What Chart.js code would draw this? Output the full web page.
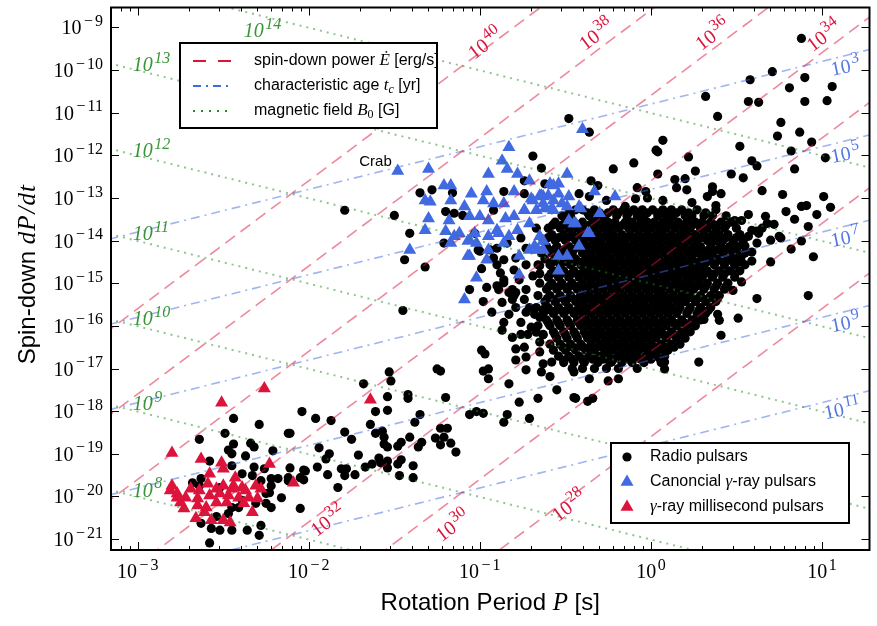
<!DOCTYPE html>
<html>
<head>
<meta charset="utf-8">
<script src="https://cdn.jsdelivr.net/npm/chart.js@4.4.0/dist/chart.umd.min.js"></script>
<style>
  body { margin: 0; background: #fff; }
  canvas { display: block; }
</style>
</head>
<body>
<canvas id="ppdot" width="877" height="626"></canvas>
<script>
// all values are log10: [log P (s), log dP/dt]

// radio pulsars away from the main cluster
const radioSparse = [
  [0.88,-9.26],[0.58,-10.23],[0.71,-10.04],[0.90,-10.18],[0.81,-10.42],[1.06,-10.39],[0.32,-10.62],[0.57,-10.74],
  [0.63,-10.76],[0.90,-10.74],[1.03,-10.72],[0.39,-11.09],[0.76,-11.23],[0.74,-11.55],[0.87,-11.46],[0.94,-11.69],
  [0.07,-11.65],[0.52,-11.79],[0.03,-11.88],[0.04,-11.92],[0.82,-11.90],[1.02,-12.06],[0.22,-12.04],[0.59,-12.13],
  [0.62,-12.25],[-0.10,-12.18],[-0.22,-12.32],[0.84,-12.32],[0.47,-12.44],[0.54,-12.53],[0.26,-12.37],[0.04,-12.44],
  [0.14,-12.57],[0.20,-12.55],[-0.36,-11.46],[-0.31,-12.71],[-0.35,-12.60],[-0.08,-12.76],[-0.03,-12.85],[0.07,-13.06],
  [0.15,-12.76],[0.21,-12.81],[0.24,-13.11],[0.36,-12.74],[0.36,-12.85],[0.41,-12.90],[0.33,-12.97],[0.38,-13.18],
  [0.65,-12.83],[0.77,-12.92],[1.01,-12.97],[0.88,-13.20],[0.91,-13.18],[1.05,-13.22],[0.79,-13.32],[0.84,-13.50],
  [0.97,-13.39],[0.57,-13.39],[0.49,-13.53],[0.53,-13.53],[0.68,-13.60],[0.72,-13.62],[0.63,-13.83],[0.62,-14.06],
  [0.76,-13.94],[0.88,-14.01],[0.82,-14.20],[0.92,-13.67],[0.95,-14.38],[0.59,-14.48],[0.70,-14.50],[0.62,-15.36],
  [0.92,-15.29],[0.51,-15.82],[0.67,-13.43],[0.65,-13.71],[0.59,-13.76],[0.57,-13.90],[0.62,-13.78],[0.70,-13.99],
  [0.75,-13.90],[0.55,-14.13],[0.59,-14.27],[0.53,-14.36],[0.50,-14.45],[0.53,-14.97],[0.48,-15.17],[0.41,-16.22],
  [0.28,-16.85],[0.31,-15.85],[0.39,-15.73],[0.40,-15.87],[0.26,-15.85],
  [-0.64,-12.30],[-0.48,-11.14],[-0.69,-12.02],[-0.42,-12.90],[-0.36,-12.97],[-0.26,-13.06],[-0.15,-13.20],
  [-0.09,-13.02],[-0.02,-13.00],
  [-0.36,-17.24],[-0.25,-17.29],[-0.19,-17.24],[-0.37,-17.77],[-0.34,-17.70],[-0.44,-17.70],[0.08,-17.01],[0.08,-16.85],
  [-0.08,-16.73],[-0.04,-16.78],[-0.01,-16.66],[0.03,-16.54],[0.07,-16.54],[0.03,-16.22],[-0.07,-16.45],[-0.55,-17.50],
  [-0.45,-17.68],[-0.66,-17.70],[-0.45,-17.08],[-0.58,-16.85],[-0.63,-16.89],[-0.64,-17.08],[-0.59,-17.19],[-0.51,-16.80],
  [-0.39,-16.85],[-0.31,-16.80],[-0.23,-16.85],[-0.13,-16.78],
  [-1.45,-15.64],[-0.86,-15.92],[-0.87,-16.10],[-0.81,-16.27],[-0.76,-16.20],[-0.72,-16.20],[-0.79,-16.54],[-0.74,-16.50],
  [-0.99,-16.57],[-0.97,-16.66],[-0.79,-16.80],[-0.73,-16.73],[-1.25,-17.01],[-1.23,-17.06],[-0.98,-17.06],[-0.95,-17.01],
  [-0.95,-17.24],[-0.73,-17.03],[-0.83,-17.36],[-1.53,-17.08],[-1.52,-17.29],[-1.68,-17.36],[-1.42,-17.61],[-1.42,-17.70],
  [-1.54,-17.66],[-1.20,-17.68],[-0.77,-17.79],[-1.06,-18.08],[-1.02,-18.01],[-0.98,-18.05],[-0.84,-18.08],[-0.71,-18.17],
  [-0.86,-18.26],[-2.04,-18.01],[-1.96,-18.17],[-1.87,-18.22],[-1.61,-18.01],[-1.54,-17.98],[-1.35,-18.08],[-1.38,-18.26],
  [-1.64,-18.31],[-1.79,-18.49],[-1.75,-18.66],[-1.61,-18.52],[-1.57,-18.47],[-1.56,-18.61],[-1.41,-18.61],[-1.46,-18.73],
  [-1.48,-18.82],[-1.34,-18.73],[-1.36,-18.84],[-1.56,-18.77],[-1.54,-18.84],[-1.23,-18.40],[-1.19,-18.40],[-1.26,-18.63],
  [-1.21,-18.61],[-1.23,-18.79],[-1.17,-18.75],[-1.14,-18.96],[-1.94,-18.86],[-1.88,-19.00],[-1.90,-19.12],[-1.71,-19.03],
  [-1.59,-19.10],[-1.58,-19.21],[-1.54,-19.17],[-1.63,-19.24],[-1.67,-19.31],[-1.46,-19.14],[-1.48,-19.24],[-1.54,-19.33],
  [-1.39,-19.28],[-1.95,-19.31],[-2.03,-19.38],[-1.89,-19.49],[-1.81,-19.35],[-1.78,-19.35],[-1.79,-19.51],[-1.73,-19.49],
  [-1.47,-19.51],[-1.39,-19.56],[-1.83,-19.79],[-2.11,-19.33],[-2.05,-19.56],[-2.03,-19.61],[-2.11,-18.52],
  [-1.79,-13.29],[-1.50,-13.41],[-1.41,-13.83],[-1.44,-14.45],[-1.32,-14.62],[-1.35,-12.88],[-1.28,-12.81],[-1.16,-12.88],
  [-1.20,-13.32],[-1.15,-13.36],[-1.10,-13.41],[-1.21,-14.06],[-1.03,-13.83],[-1.01,-14.22],[-0.94,-14.22],[-0.92,-14.41],
  [-0.99,-14.66],[-0.98,-15.43],[-0.88,-14.76],[-0.86,-14.99],[-0.89,-15.15],[-0.83,-15.22],[-0.80,-14.69],[-0.86,-12.85],
  [-0.74,-12.90],[-0.62,-12.67],[-0.74,-12.60],[-0.92,-13.29],
  [-0.71,-15.57],[-0.68,-15.73],[-0.65,-15.80],[-0.63,-15.62],[-0.73,-15.68],[-0.67,-16.15],[-0.63,-16.20],[-0.65,-16.38],
  [-0.65,-16.61],[-0.90,-14.57],[-0.86,-14.92],[-0.81,-15.15],[-0.80,-15.29],[-0.90,-15.06],[-1.06,-15.15],[-1.00,-14.25],
  [-0.86,-14.45],[-0.77,-14.92],[-0.73,-15.15],[-0.69,-14.83],[-0.65,-14.59],[-0.74,-15.38],[-0.81,-15.38],[-0.79,-15.57],
  [-0.83,-15.73],[-0.76,-15.92],[-0.70,-16.03],[-0.79,-14.41],[-0.73,-14.57],[-0.73,-14.18],[-0.76,-13.94],[-0.67,-13.71],
  [-0.90,-14.18],[-0.84,-14.06],[-0.96,-15.10],[-0.93,-15.68],[-0.87,-15.45],[-0.79,-15.22],
  [-2.44,-18.17],[-2.29,-18.31],[-2.12,-18.52],[-2.49,-18.52],[-2.64,-18.66],[-2.44,-18.77],[-2.34,-18.75],[-2.32,-18.84],
  [-2.47,-18.91],[-2.45,-19.00],[-2.21,-18.93],[-2.37,-19.05],[-2.58,-19.17],[-2.45,-19.28],[-2.32,-19.31],[-2.02,-19.40],
  [-2.39,-19.47],[-2.26,-19.35],[-2.22,-19.58],[-2.18,-19.58],[-2.63,-19.58],[-2.33,-19.51],[-2.28,-19.63],[-2.12,-19.56],
  [-2.22,-19.75],[-2.23,-19.91],[-2.16,-20.03],[-2.22,-20.26],[-2.05,-20.28],[-2.25,-20.16],[-2.31,-20.16],[-2.45,-20.26],
  [-2.39,-20.09],[-2.47,-20.40],[-2.54,-20.47],[-2.28,-20.68],[-2.29,-20.91],[-2.45,-20.79],[-2.52,-20.79],[-2.57,-20.75],
  [-2.63,-20.63],[-2.58,-21.09],[-2.64,-19.75],[-2.68,-19.68],[-2.52,-19.79],[-2.25,-19.93],[-2.36,-20.79],[-2.41,-20.26],
  [-2.12,-19.63]
];

// the crowded core of the radio population, one row per log dP/dt
const radioCore = [
  [-13.28, [-0.44,-0.40,-0.33,-0.22,-0.16,-0.10,-0.05,0.01,0.07,0.12,0.18,0.27,0.38]],
  [-13.35, [-0.48,-0.37,-0.30,-0.25,-0.19,-0.13,-0.07,-0.02,0.04,0.10,0.15,0.22,0.32]],
  [-13.42, [-0.52,-0.47,-0.36,-0.31,-0.27,-0.20,-0.14,-0.08,-0.04,0.04,0.09,0.13,0.20,0.24,0.31,0.36,0.44]],
  [-13.57, [-0.56,-0.50,-0.45,-0.40,-0.34,-0.29,-0.25,-0.21,-0.15,-0.11,-0.06,-0.02,0.02,0.07,0.11,0.16,0.21,0.26,0.30,0.35,0.41,0.47]],
  [-13.64, [-0.575,-0.52,-0.465,-0.415,-0.36,-0.31,-0.26,-0.215,-0.165,-0.11,-0.065,-0.015,0.035,0.085,0.13,0.18,0.235,0.28,0.325,0.375,0.44]],
  [-13.71, [-0.60,-0.53,-0.48,-0.43,-0.38,-0.33,-0.28,-0.24,-0.19,-0.13,-0.09,-0.04,0.00,0.05,0.09,0.14,0.19,0.23,0.29,0.33,0.38,0.43,0.50]],
  [-13.86, [-0.58,-0.51,-0.46,-0.41,-0.36,-0.31,-0.26,-0.22,-0.17,-0.12,-0.07,-0.02,0.03,0.07,0.12,0.17,0.21,0.26,0.31,0.36,0.40,0.45,0.52]],
  [-13.93, [-0.60,-0.54,-0.485,-0.435,-0.385,-0.335,-0.285,-0.235,-0.19,-0.14,-0.09,-0.04,0.01,0.055,0.105,0.155,0.20,0.245,0.295,0.345,0.395,0.44,0.50]],
  [-14.00, [-0.63,-0.56,-0.50,-0.44,-0.39,-0.34,-0.29,-0.24,-0.20,-0.15,-0.10,-0.05,-0.01,0.04,0.09,0.13,0.18,0.22,0.27,0.33,0.38,0.42,0.48,0.54]],
  [-14.14, [-0.61,-0.55,-0.48,-0.42,-0.37,-0.32,-0.27,-0.22,-0.17,-0.13,-0.08,-0.03,0.01,0.06,0.11,0.15,0.20,0.25,0.29,0.35,0.41,0.46,0.51]],
  [-14.21, [-0.625,-0.565,-0.505,-0.45,-0.395,-0.345,-0.295,-0.24,-0.19,-0.14,-0.095,-0.045,0.005,0.05,0.10,0.15,0.195,0.245,0.295,0.34,0.39,0.445,0.50]],
  [-14.29, [-0.64,-0.58,-0.52,-0.46,-0.40,-0.35,-0.30,-0.25,-0.20,-0.15,-0.11,-0.06,-0.01,0.03,0.08,0.13,0.17,0.22,0.27,0.32,0.36,0.42,0.48,0.55]],
  [-14.43, [-0.62,-0.56,-0.49,-0.44,-0.38,-0.33,-0.28,-0.23,-0.18,-0.13,-0.09,-0.04,0.01,0.05,0.10,0.15,0.19,0.24,0.30,0.34,0.39,0.45,0.50]],
  [-14.50, [-0.575,-0.51,-0.455,-0.40,-0.35,-0.30,-0.245,-0.195,-0.145,-0.10,-0.05,0.00,0.045,0.09,0.135,0.18,0.225,0.28,0.325,0.38,0.43,0.48,0.53]],
  [-14.57, [-0.66,-0.59,-0.53,-0.47,-0.41,-0.36,-0.31,-0.26,-0.21,-0.16,-0.11,-0.07,-0.02,0.03,0.07,0.12,0.17,0.21,0.26,0.31,0.37,0.43,0.49,0.55]],
  [-14.71, [-0.57,-0.51,-0.45,-0.39,-0.34,-0.29,-0.24,-0.19,-0.14,-0.09,-0.05,0.00,0.05,0.09,0.14,0.19,0.24,0.28,0.33,0.40,0.46,0.52]],
  [-14.78, [-0.65,-0.585,-0.525,-0.465,-0.41,-0.355,-0.305,-0.255,-0.205,-0.155,-0.105,-0.06,-0.015,0.035,0.08,0.125,0.175,0.225,0.27,0.315,0.37,0.43,0.49]],
  [-14.86, [-0.60,-0.54,-0.48,-0.42,-0.37,-0.32,-0.27,-0.22,-0.17,-0.12,-0.07,-0.03,0.02,0.07,0.11,0.16,0.21,0.26,0.30,0.36,0.42,0.49]],
  [-15.00, [-0.65,-0.58,-0.52,-0.46,-0.40,-0.35,-0.30,-0.25,-0.20,-0.15,-0.10,-0.05,0.00,0.04,0.09,0.14,0.18,0.23,0.28,0.33,0.39,0.45]],
  [-15.07, [-0.595,-0.535,-0.475,-0.42,-0.365,-0.315,-0.265,-0.215,-0.165,-0.115,-0.065,-0.015,0.03,0.075,0.125,0.17,0.22,0.265,0.32,0.38,0.44]],
  [-15.14, [-0.61,-0.55,-0.49,-0.43,-0.38,-0.33,-0.28,-0.23,-0.18,-0.13,-0.08,-0.03,0.02,0.06,0.11,0.16,0.21,0.25,0.31,0.37,0.43]],
  [-15.29, [-0.66,-0.59,-0.53,-0.47,-0.41,-0.36,-0.31,-0.26,-0.21,-0.16,-0.11,-0.06,-0.01,0.04,0.08,0.13,0.18,0.23,0.29,0.35,0.40]],
  [-15.36, [-0.605,-0.545,-0.485,-0.425,-0.375,-0.325,-0.275,-0.225,-0.175,-0.125,-0.075,-0.025,0.025,0.07,0.115,0.165,0.215,0.275,0.335,0.39]],
  [-15.43, [-0.62,-0.56,-0.50,-0.44,-0.39,-0.34,-0.29,-0.24,-0.19,-0.14,-0.09,-0.04,0.01,0.06,0.10,0.15,0.20,0.26,0.32,0.38]],
  [-15.57, [-0.67,-0.60,-0.54,-0.48,-0.42,-0.37,-0.32,-0.27,-0.22,-0.17,-0.12,-0.07,-0.02,0.03,0.08,0.12,0.17,0.23,0.29,0.35]],
  [-15.64, [-0.615,-0.555,-0.495,-0.435,-0.385,-0.335,-0.285,-0.235,-0.185,-0.135,-0.085,-0.035,0.015,0.065,0.11,0.16,0.22,0.28,0.335]],
  [-15.71, [-0.63,-0.57,-0.51,-0.45,-0.40,-0.35,-0.30,-0.25,-0.20,-0.15,-0.10,-0.05,0.00,0.05,0.10,0.15,0.21,0.27,0.32]],
  [-15.86, [-0.61,-0.55,-0.49,-0.43,-0.38,-0.33,-0.28,-0.23,-0.18,-0.13,-0.08,-0.03,0.02,0.07,0.12,0.18,0.24,0.29]],
  [-15.93, [-0.60,-0.54,-0.48,-0.42,-0.37,-0.32,-0.27,-0.22,-0.17,-0.12,-0.07,-0.02,0.03,0.08,0.135,0.195,0.25]],
  [-16.00, [-0.66,-0.59,-0.53,-0.47,-0.41,-0.36,-0.31,-0.26,-0.21,-0.16,-0.11,-0.06,-0.01,0.04,0.09,0.15,0.21,0.26]],
  [-16.14, [-0.57,-0.51,-0.45,-0.39,-0.34,-0.29,-0.24,-0.19,-0.14,-0.09,-0.04,0.01,0.06,0.12,0.18,0.23]],
  [-16.21, [-0.63,-0.56,-0.50,-0.44,-0.38,-0.33,-0.28,-0.23,-0.18,-0.13,-0.08,-0.03,0.02,0.075,0.135,0.19]],
  [-16.29, [-0.55,-0.49,-0.43,-0.37,-0.32,-0.27,-0.22,-0.17,-0.12,-0.07,-0.02,0.03,0.09,0.15,0.20]],
  [-16.43, [-0.59,-0.53,-0.47,-0.41,-0.35,-0.30,-0.25,-0.20,-0.15,-0.10,-0.05,0.00,0.06,0.12,0.17]],
  [-16.50, [-0.515,-0.455,-0.395,-0.34,-0.285,-0.235,-0.185,-0.135,-0.085,-0.035,0.02,0.08,0.135]],
  [-16.57, [-0.57,-0.50,-0.44,-0.38,-0.33,-0.27,-0.22,-0.17,-0.12,-0.07,-0.02,0.04,0.10]],
  [-16.71, [-0.54,-0.48,-0.42,-0.36,-0.30,-0.25,-0.19,-0.14,-0.09,-0.03,0.03,0.08]],
  [-16.78, [-0.46,-0.40,-0.34,-0.28,-0.22,-0.165,-0.115,-0.06,0.00,0.055]],
  [-16.86, [-0.51,-0.45,-0.39,-0.31,-0.24,-0.17,-0.11,-0.04,0.06]],
  [-17.00, [-0.46,-0.40,-0.33,-0.26,-0.19,-0.08]]
];

// canonical (young) gamma-ray pulsars
const gammaYoung = [
  [-1.48,-12.37],[-1.30,-12.32],[-1.21,-12.71],[-1.17,-12.71],[-1.32,-13.06],[-1.29,-13.09],[-1.17,-13.06],[-1.30,-13.48],
  [-1.32,-13.76],[-1.18,-13.53],[-1.41,-14.22],[-1.17,-14.06],[-1.15,-13.90],[-1.20,-13.78],[-1.09,-13.20],[-1.05,-12.90],
  [-0.96,-12.85],[-0.98,-13.06],[-0.95,-12.44],[-0.87,-12.13],[-0.83,-11.81],[-0.84,-12.32],[-0.78,-12.44],[-0.71,-12.60],
  [-1.06,-13.43],[-1.00,-13.43],[-0.95,-13.53],[-0.92,-13.13],[-0.86,-13.13],[-0.85,-13.48],[-0.90,-13.76],[-0.95,-13.90],
  [-1.06,-13.99],[-1.12,-13.83],[-1.07,-14.36],[-1.02,-14.87],[-1.09,-15.38],[-0.78,-13.76],[-0.83,-13.90],[-0.77,-14.36],
  [-0.71,-14.22],[-0.65,-13.90],[-0.63,-14.22],[-0.71,-13.60],[-0.80,-13.43],[-0.74,-13.29],[-0.69,-13.06],[-0.63,-12.97],
  [-0.59,-12.67],[-0.54,-12.67],[-0.49,-12.44],[-0.40,-11.39],[-0.63,-13.13],[-0.57,-13.06],[-0.54,-12.90],[-0.48,-12.97],
  [-0.49,-13.20],[-0.57,-13.29],[-0.42,-13.20],[-0.48,-13.53],[-0.44,-13.60],[-0.36,-13.83],[-0.42,-14.13],[-0.54,-14.36],
  [-0.49,-14.36],[-0.54,-14.71],[-0.68,-14.13],[-0.63,-14.01],[-0.33,-12.85],[-0.21,-12.97],[-0.41,-13.25],[-0.30,-13.36],
  [-0.37,-13.83],[-0.64,-12.95],[-0.60,-12.95],[-0.57,-12.71],[-0.62,-13.25],[-0.58,-13.25],[-0.52,-13.13],[-0.45,-13.60],
  [-0.66,-14.22],[-1.02,-14.06],[-1.07,-14.01],[-1.06,-14.36],[-0.96,-14.45],[-0.86,-14.06],[-0.95,-14.22],[-0.89,-13.83],
  [-1.03,-13.83],[-0.70,-13.02],[-0.65,-12.95],[-0.67,-13.29],[-0.74,-13.29],[-0.80,-12.85],[-0.77,-14.80]
];

// gamma-ray millisecond pulsars
const gammaMsp = [
  [-2.26,-17.47],[-2.51,-17.80],[-2.80,-18.98],[-2.63,-19.12],[-2.51,-19.21],[-2.50,-19.35],[-2.58,-19.47],[-2.43,-19.56],
  [-2.23,-19.24],[-2.09,-19.68],[-2.80,-19.75],[-2.69,-19.82],[-2.64,-19.86],[-2.59,-19.70],[-2.54,-19.82],[-2.50,-19.75],
  [-2.44,-19.75],[-2.39,-19.79],[-2.31,-19.75],[-2.28,-19.82],[-2.77,-20.03],[-2.72,-20.03],[-2.65,-20.05],[-2.58,-19.98],
  [-2.52,-19.93],[-2.47,-19.98],[-2.41,-20.03],[-2.35,-20.03],[-2.30,-20.05],[-2.65,-20.21],[-2.60,-20.26],[-2.54,-20.14],
  [-2.48,-20.14],[-2.38,-20.16],[-2.73,-20.28],[-2.61,-20.37],[-2.57,-20.56],[-2.66,-20.51],[-2.50,-20.56],[-2.46,-20.61],
  [-2.33,-20.37],[-2.75,-20.14],[-1.64,-17.73],[-2.81,-19.86],[-2.77,-19.93],[-2.37,-19.86],[-2.45,-19.82]
];

// guide-line levels (log10)
const edotLevels = [28, 30, 32, 34, 36, 38, 40];   // erg/s
const ageLevels = [3, 5, 7, 9, 11];                 // yr
const fieldLevels = [8, 9, 10, 11, 12, 13, 14];    // G

// where each level's label sits: [logP, logPdot]
const edotLabelAt = { 40: [-0.97,-9.37], 38: [-0.32,-9.16], 36: [0.36,-9.16], 34: [1.01,-9.19],
                      32: [-1.89,-20.56], 30: [-1.16,-20.68], 28: [-0.48,-20.21] };
const ageLabelAt = { 3: [1.052,-9.975], 5: [1.052,-12.02], 7: [1.052,-13.99], 9: [1.052,-15.99], 11: [1.012,-18.03] };
const fieldLabelAt = { 14: [-2.38,-9.07], 13: [-3.03,-9.86], 12: [-3.03,-11.88], 11: [-3.03,-13.83],
                       10: [-3.03,-15.82], 9: [-3.03,-17.82], 8: [-3.03,-19.84] };
const crabAt = [-1.61, -12.16];

const LOG_4PI2I = Math.log10(4 * Math.PI * Math.PI * 1e45);
const LOG_2YR = Math.log10(2 * 3.15576e7);
const LOG_B = Math.log10(3.2e19);

const pt = p => ({ x: Math.pow(10, p[0]), y: Math.pow(10, p[1]) });
const coreFlat = [];
radioCore.forEach(r => r[1].forEach(lp => coreFlat.push([lp, r[0]])));

// straight lines in log-log space, taken well past the axis limits
const span = [-4, 2.5];
const edotLine = L => span.map(lp => pt([lp, L - LOG_4PI2I + 3 * lp]));
const ageLine = T => span.map(lp => pt([lp, lp - LOG_2YR - T]));
const fieldLine = B => span.map(lp => pt([lp, 2 * (B - LOG_B) - lp]));

const RED = '#dc143c', BLUE = '#4169e1', GREEN = '#228b22';

function guide(data, color, dash, width) {
  return { type: 'line', data, borderColor: color, borderDash: dash, borderWidth: width,
           pointRadius: 0, fill: false, tension: 0, order: 0 };
}

const datasets = [];
edotLevels.forEach(L => datasets.push(guide(edotLine(L), 'rgba(220,20,60,0.5)', [12, 7], 1.6)));
ageLevels.forEach(T => datasets.push(guide(ageLine(T), 'rgba(65,105,225,0.5)', [9, 5, 2, 5], 1.6)));
fieldLevels.forEach(B => datasets.push(guide(fieldLine(B), 'rgba(34,139,34,0.5)', [2, 5], 2)));
datasets.push({ label: 'Radio pulsars', data: radioSparse.concat(coreFlat).map(pt),
  pointRadius: 4.6, pointBackgroundColor: '#000', pointBorderWidth: 0, order: 3 });
datasets.push({ label: 'Canoncial gamma-ray pulsars', data: gammaYoung.map(pt), pointStyle: 'triangle',
  pointRadius: 7.5, pointBackgroundColor: BLUE, pointBorderWidth: 0, order: 2 });
datasets.push({ label: 'gamma-ray millisecond pulsars', data: gammaMsp.map(pt), pointStyle: 'triangle',
  pointRadius: 7.5, pointBackgroundColor: RED, pointBorderWidth: 0, order: 1 });

const SERIF = '"Liberation Serif", "DejaVu Serif", serif';
const SANS = '"Liberation Sans", Arial, sans-serif';
const MINUS = '\u2212';

// "10" with a raised exponent, anchored at (x, y) = vertical middle
function pow10(ctx, n, x, y, o) {
  const it = o.italic ? 'italic ' : '';
  const big = `${it}${o.size}px ${SERIF}`;
  const small = `${it}${Math.round(o.size * 0.8)}px ${SERIF}`;
  const digits = String(Math.abs(n));
  ctx.font = big;
  const wb = ctx.measureText('10').width;
  ctx.font = small;
  const wm = n < 0 ? ctx.measureText(MINUS).width + 3 : 0;
  const wd = ctx.measureText(digits).width;
  const w = wb + 1.5 + wm + wd;
  const x0 = o.align === 'right' ? -w : o.align === 'left' ? 0 : -w / 2;
  ctx.save();
  ctx.translate(x, y);
  if (o.rot) ctx.rotate(o.rot);
  ctx.fillStyle = o.color || '#000';
  ctx.textAlign = 'left';
  ctx.textBaseline = 'alphabetic';
  const base = o.size * 0.35;
  const sup = base - o.size * 0.42;
  ctx.font = big;
  ctx.fillText('10', x0, base);
  ctx.font = small;
  if (n < 0) ctx.fillText(MINUS, x0 + wb + 2.5, sup);
  ctx.fillText(digits, x0 + wb + 1.5 + wm, sup);
  ctx.restore();
}

// mixed-font text: parts = [[text, font, dy, gap]]
function rich(ctx, parts, x, y, align) {
  let w = 0;
  parts.forEach(p => { ctx.font = p[1]; w += ctx.measureText(p[0]).width + (p[3] || 0); });
  let cx = align === 'center' ? x - w / 2 : x;
  ctx.textAlign = 'left';
  ctx.textBaseline = 'middle';
  parts.forEach(p => {
    ctx.font = p[1];
    ctx.fillText(p[0], cx, y + (p[2] || 0));
    cx += ctx.measureText(p[0]).width + (p[3] || 0);
  });
}

const decor = {
  id: 'decor',
  afterDatasetsDraw(chart) {
    const { ctx, scales: { x, y } } = chart;
    const px = p => [x.getPixelForValue(Math.pow(10, p[0])), y.getPixelForValue(Math.pow(10, p[1]))];
    edotLevels.forEach(L => {
      const [cx, cy] = px(edotLabelAt[L]);
      pow10(ctx, L, cx, cy, { size: 20, color: RED, rot: -0.64 });
    });
    ageLevels.forEach(T => {
      const [cx, cy] = px(ageLabelAt[T]);
      pow10(ctx, T, cx, cy, { size: 20, color: 'rgba(65,105,225,0.9)', rot: -0.2, align: 'left' });
    });
    fieldLevels.forEach(B => {
      const [cx, cy] = px(fieldLabelAt[B]);
      pow10(ctx, B, cx, cy, { size: 20, color: 'rgba(34,139,34,0.9)', italic: true, align: 'left' });
    });
    const [kx, ky] = px(crabAt);
    ctx.fillStyle = '#000';
    ctx.font = `15px ${SANS}`;
    ctx.textAlign = 'center';
    ctx.textBaseline = 'middle';
    ctx.fillText('Crab', kx, ky);
  },
  afterDraw(chart) {
    const { ctx, chartArea: a, scales: { x, y } } = chart;
    ctx.save();

    // guide-line legend
    ctx.fillStyle = '#fff';
    ctx.fillRect(180, 43, 257, 85);
    ctx.strokeStyle = '#000';
    ctx.lineWidth = 2;
    ctx.strokeRect(180, 43, 257, 85);
    const rows1 = [
      [RED, [13, 12], 1.8, [['spin-down power ', `16px ${SANS}`], ['\u0116', `italic 17px ${SERIF}`], [' [erg/s]', `16px ${SANS}`]]],
      [BLUE, [8, 5, 2, 5], 1.8, [['characteristic age ', `16px ${SANS}`], ['t', `italic 17px ${SERIF}`], ['c', `italic 12px ${SERIF}`, 4], [' [yr]', `16px ${SANS}`]]],
      [GREEN, [2, 6], 2.2, [['magnetic field ', `16px ${SANS}`], ['B', `italic 17px ${SERIF}`], ['0', `12px ${SERIF}`, 4], [' [G]', `16px ${SANS}`]]]
    ];
    rows1.forEach((r, i) => {
      const ry = 61 + i * 25;
      ctx.strokeStyle = r[0];
      ctx.setLineDash(r[1]);
      ctx.lineWidth = r[2];
      ctx.beginPath();
      ctx.moveTo(193, ry);
      ctx.lineTo(232, ry);
      ctx.stroke();
      ctx.setLineDash([]);
      ctx.fillStyle = '#000';
      rich(ctx, r[3], 254, ry);
    });

    // population legend
    ctx.fillStyle = '#fff';
    ctx.fillRect(611, 443, 238, 80);
    ctx.strokeStyle = '#000';
    ctx.lineWidth = 2;
    ctx.strokeRect(611, 443, 238, 80);
    const rows2 = [
      ['circle', '#000', [['Radio pulsars', `16px ${SANS}`]]],
      ['triangle', BLUE, [['Canoncial ', `16px ${SANS}`], ['\u03b3', `italic 17px ${SERIF}`], ['-ray pulsars', `16px ${SANS}`]]],
      ['triangle', RED, [['\u03b3', `italic 17px ${SERIF}`], ['-ray millisecond pulsars', `16px ${SANS}`]]]
    ];
    rows2.forEach((r, i) => {
      const ry = 457 + i * 25;
      ctx.fillStyle = r[1];
      ctx.beginPath();
      if (r[0] === 'circle') {
        ctx.arc(627, ry, 4.6, 0, Math.PI * 2);
      } else {
        ctx.moveTo(627, ry - 7.5);
        ctx.lineTo(627 + 6.5, ry + 3.75);
        ctx.lineTo(627 - 6.5, ry + 3.75);
        ctx.closePath();
      }
      ctx.fill();
      ctx.fillStyle = '#000';
      rich(ctx, r[2], 650, ry);
    });

    // frame and inward ticks
    ctx.strokeStyle = '#000';
    ctx.lineWidth = 2;
    ctx.strokeRect(a.left, a.top, a.right - a.left, a.bottom - a.top);
    ctx.lineWidth = 1;
    ctx.beginPath();
    for (let d = -4; d <= 1; d++) {
      for (let k = 1; k <= 9; k++) {
        const v = k * Math.pow(10, d);
        if (v < x.min || v > x.max) continue;
        const tx = Math.round(x.getPixelForValue(v)) + 0.5;
        const len = k === 1 ? 8 : 4;
        ctx.moveTo(tx, a.bottom);
        ctx.lineTo(tx, a.bottom - len);
        ctx.moveTo(tx, a.top);
        ctx.lineTo(tx, a.top + len);
      }
    }
    for (let d = -21; d <= -9; d++) {
      const ty = Math.round(y.getPixelForValue(Math.pow(10, d))) + 0.5;
      ctx.moveTo(a.left, ty);
      ctx.lineTo(a.left + 8, ty);
      ctx.moveTo(a.right, ty);
      ctx.lineTo(a.right - 8, ty);
    }
    ctx.stroke();

    // tick labels
    for (let d = -3; d <= 1; d++) {
      pow10(ctx, d, x.getPixelForValue(Math.pow(10, d)), a.bottom + 21, { size: 20 });
    }
    for (let d = -21; d <= -9; d++) {
      pow10(ctx, d, a.left - 8, y.getPixelForValue(Math.pow(10, d)), { size: 20, align: 'right' });
    }

    // axis titles
    ctx.fillStyle = '#000';
    rich(ctx, [['Rotation Period ', `24px ${SANS}`], ['P', `italic 25px ${SERIF}`], [' [s]', `24px ${SANS}`]],
         (a.left + a.right) / 2, 603, 'center');
    ctx.save();
    ctx.translate(28, (a.top + a.bottom) / 2 - 4);
    ctx.rotate(-Math.PI / 2);
    rich(ctx, [['Spin-down ', `24px ${SANS}`], ['d', `italic 25px ${SERIF}`, 0, 1], ['P', `italic 25px ${SERIF}`, 0, 2],
               ['/', `italic 25px ${SERIF}`, 0, 1], ['d', `italic 25px ${SERIF}`, 0, 1], ['t', `italic 25px ${SERIF}`]], 0, 0, 'center');
    ctx.restore();

    ctx.restore();
  }
};

new Chart(document.getElementById('ppdot'), {
  type: 'scatter',
  data: { datasets },
  options: {
    responsive: false,
    animation: false,
    devicePixelRatio: 1,
    layout: { padding: { left: 111, top: 2, right: 1, bottom: 76 } },
    scales: {
      x: { type: 'logarithmic', display: false, min: Math.pow(10, -3.1565), max: Math.pow(10, 1.278) },
      y: { type: 'logarithmic', display: false, min: Math.pow(10, -21.255), max: Math.pow(10, -8.536) }
    },
    plugins: { legend: { display: false }, tooltip: { enabled: false } }
  },
  plugins: [decor]
});
</script>
</body>
</html>
